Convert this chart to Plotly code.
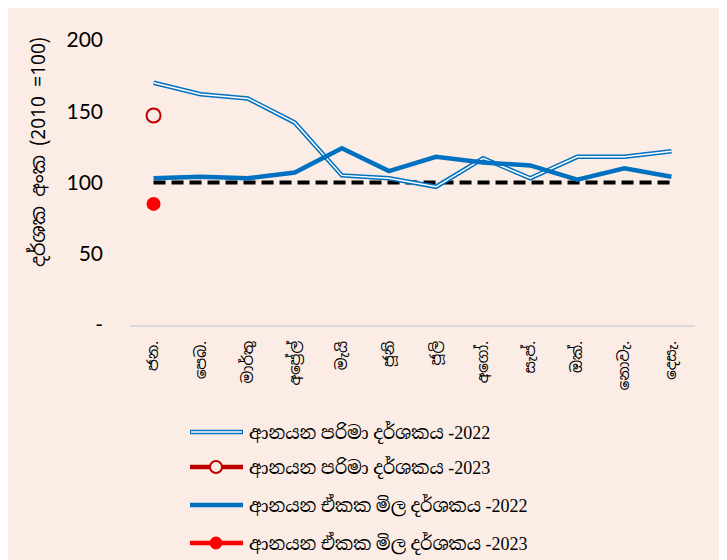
import plotly.graph_objects as go

# month labels (Sinhala abbreviations)
months = ["ජන.", "පෙබ.", "මාර්තු", "අප්‍රේල්", "මැයි", "ජූනි",
          "ජූලි", "අගෝ.", "සැප්.", "ඔක්.", "නොවැ.", "දෙසැ."]

# index values, 2010 = 100
volume_2022 = [170, 162, 159, 142, 105, 103, 97, 117, 103, 118, 118, 122]
volume_2023 = [147]
unit_value_2022 = [103, 104, 103, 107, 124, 108, 118, 114, 112, 102, 110, 104]
unit_value_2023 = [85]
base_2010 = [100, 100, 100, 100, 100, 100, 100, 100, 100, 100, 100, 100]

legend_names = [
    "ආනයන පරිමා දර්ශකය -2022",
    "ආනයන පරිමා දර්ශකය -2023",
    "ආනයන ඒකක මිල දර්ශකය -2022",
    "ආනයන ඒකක මිල දර්ශකය -2023",
]

BLUE = "#0070C0"
DARK_RED = "#C00000"
RED = "#FF0000"
BG = "#FBEDE5"
SINHALA = "Noto Sans Sinhala, Iskoola Pota, Noto Sans, sans-serif"
SERIF = "Liberation Serif, Noto Serif Sinhala, Noto Sans Sinhala, serif"

# the page body adds an 8px margin, so size the figure to fit the window
OFF = 8
W, H = 727 - OFF, 560 - OFF
# plot area in window pixels
X0, X1, Y0, Y1 = 130, 695, 40, 325
L, R, T, B = X0 - OFF, 727 - X1, Y0 - OFF, 560 - Y1
pw, ph = X1 - X0, Y1 - Y0

fig = go.Figure()

# base line 100
fig.add_trace(go.Scatter(x=months, y=base_2010, mode="lines",
                         line=dict(color="black", width=4, dash="12px,6px"),
                         showlegend=False, hoverinfo="skip"))

# volume index 2022 - double line (blue outer, white inner)
fig.add_trace(go.Scatter(x=months, y=volume_2022, mode="lines",
                         line=dict(color=BLUE, width=4.5),
                         name=legend_names[0], showlegend=False))
fig.add_trace(go.Scatter(x=months, y=volume_2022, mode="lines",
                         line=dict(color="white", width=1.5),
                         showlegend=False, hoverinfo="skip"))

# unit value index 2022
fig.add_trace(go.Scatter(x=months, y=unit_value_2022, mode="lines",
                         line=dict(color=BLUE, width=4.5),
                         name=legend_names[2], showlegend=False))

# 2023 points
fig.add_trace(go.Scatter(x=months[:len(volume_2023)], y=volume_2023, mode="markers",
                         marker=dict(symbol="circle-open", size=14, color=DARK_RED,
                                     line=dict(width=2, color=DARK_RED)),
                         name=legend_names[1], showlegend=False))
fig.add_trace(go.Scatter(x=months[:len(unit_value_2023)], y=unit_value_2023, mode="markers",
                         marker=dict(symbol="circle", size=14, color=RED),
                         name=legend_names[3], showlegend=False))


# window pixel -> paper coords
def px(xp):
    return (xp - X0) / pw


def py(yp):
    return (Y1 - yp) / ph


# manual legend below the chart
legend_y = [432, 467, 505, 543]
shapes = []
annotations = []
for i, name in enumerate(legend_names):
    yy = py(legend_y[i])
    if i == 0:
        shapes.append(dict(type="line", xref="paper", yref="paper", x0=px(190), x1=px(243),
                           y0=yy, y1=yy, line=dict(color=BLUE, width=4.5)))
        shapes.append(dict(type="line", xref="paper", yref="paper", x0=px(191), x1=px(242),
                           y0=yy, y1=yy, line=dict(color="white", width=1.5)))
    elif i == 1:
        shapes.append(dict(type="line", xref="paper", yref="paper", x0=px(190), x1=px(243),
                           y0=yy, y1=yy, line=dict(color=DARK_RED, width=4.5)))
        shapes.append(dict(type="circle", xref="paper", yref="paper",
                           xsizemode="pixel", ysizemode="pixel", xanchor=px(216), yanchor=yy,
                           x0=-6, x1=6, y0=-6, y1=6, fillcolor=BG,
                           line=dict(color=DARK_RED, width=2)))
    elif i == 2:
        shapes.append(dict(type="line", xref="paper", yref="paper", x0=px(190), x1=px(243),
                           y0=yy, y1=yy, line=dict(color=BLUE, width=4.5)))
    else:
        shapes.append(dict(type="line", xref="paper", yref="paper", x0=px(190), x1=px(243),
                           y0=yy, y1=yy, line=dict(color=RED, width=4.5)))
        shapes.append(dict(type="circle", xref="paper", yref="paper",
                           xsizemode="pixel", ysizemode="pixel", xanchor=px(216), yanchor=yy,
                           x0=-6, x1=6, y0=-6, y1=6, fillcolor=RED,
                           line=dict(color=RED, width=1)))
    annotations.append(dict(text=name, xref="paper", yref="paper", x=px(247), y=yy,
                            xanchor="left", yanchor="middle", showarrow=False,
                            font=dict(family=SERIF, size=18, color="black")))

# y-axis title as rotated annotation (sits a bit above the axis centre)
annotations.append(dict(text="දර්ශක අංක (2010 =100)", xref="paper", yref="paper",
                        x=px(38), y=py(152), xanchor="center", yanchor="middle",
                        textangle=-90, showarrow=False,
                        font=dict(family=SINHALA, size=19, color="black")))

fig.update_layout(
    width=W, height=H,
    margin=dict(l=L, r=R, t=T, b=B, pad=0),
    paper_bgcolor=BG, plot_bgcolor=BG,
    showlegend=False,
    shapes=shapes,
    annotations=annotations,
    font=dict(family=SINHALA, color="black"),
)

fig.update_xaxes(
    type="category", range=[-0.5, len(months) - 0.5], tickangle=-90,
    showgrid=False, automargin=False,
    showline=True, linecolor="#D9D9D9", linewidth=1.5,
    ticks="", tickfont=dict(family=SINHALA, size=15, color="black"),
    ticklabelstandoff=8,
)
fig.update_yaxes(
    range=[0, 200], tickvals=[0, 50, 100, 150, 200], automargin=False,
    ticktext=["-", "50", "100", "150", "200"],
    showgrid=False, zeroline=False, showline=False, ticks="",
    tickfont=dict(family="Lato, Open Sans, sans-serif", size=21, color="black"),
    ticklabelstandoff=26,
)

fig.write_html("out.html")
